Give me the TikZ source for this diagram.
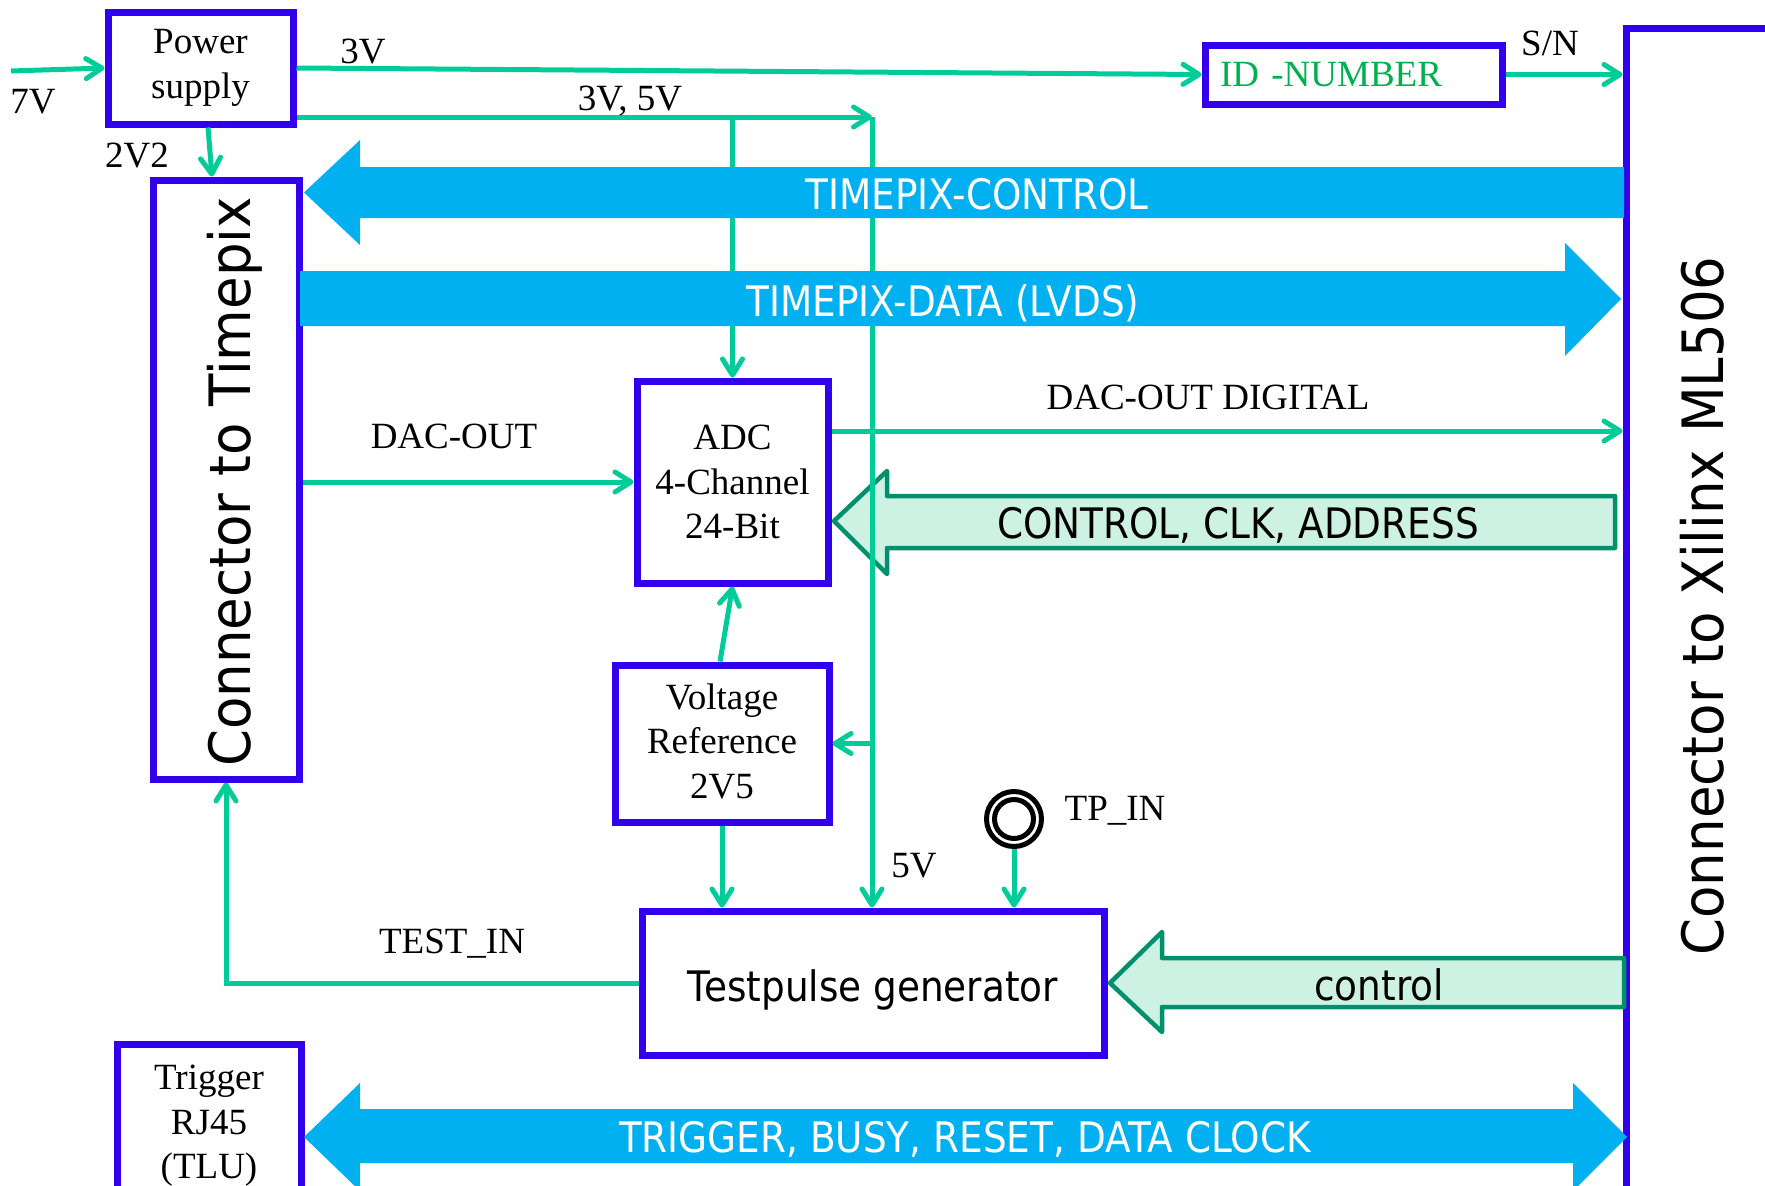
\documentclass[tikz,border=0pt]{standalone}
\usepackage{fontspec}
\setmainfont{Liberation Serif}
\newfontfamily\fSansA{DejaVu Sans}[FakeStretch=0.89]
\newfontfamily\fSansB{DejaVu Sans}[FakeStretch=0.93]
\newcommand\szSerif{\rmfamily\fontsize{37}{44.5}\selectfont}
\newcommand\szSans{\fSansA\fontsize{42}{48}\selectfont}
\newcommand\szConn{\fSansB\fontsize{57}{64}\selectfont}
\usetikzlibrary{arrows.meta,calc}
\definecolor{boxblue}{HTML}{3300EE}
\definecolor{wgreen}{HTML}{00CC99}
\definecolor{cyanA}{HTML}{00B0F0}
\definecolor{dgreen}{HTML}{00906E}
\definecolor{lightfill}{HTML}{CDF2E4}
\definecolor{idgreen}{HTML}{00B050}
\begin{document}
\begin{tikzpicture}[x=1pt,y=-1pt,
  box/.style={draw=boxblue, line width=7pt, fill=white, rectangle, inner sep=0pt, align=center, font=\szSerif},
  wire/.style={draw=wgreen, line width=5pt},
  arr/.style={wire, -{Straight Barb[length=16pt,width=20pt,line cap=round,line join=round]}},
  lbl/.style={anchor=base, inner sep=0pt, font=\szSerif},
  bigtxt/.style={anchor=base, inner sep=0pt, font=\szSans, text=white},
  big/.style={fill=cyanA},
  hollow/.style={fill=lightfill, draw=dgreen, line width=4.5pt, line join=round},
  conn/.style={rotate=90, anchor=base, inner sep=0pt, font=\szConn}
]
\useasboundingbox (0,0) rectangle (1765,1186);
\fill[white] (0,0) rectangle (1765,1186);
\clip (0,0) rectangle (1765,1186);

% boxes
\node[box, minimum width=185pt, minimum height=112pt] (ps) at (200.5,68) {Power\\supply};
\node[box, minimum height=59pt, text width=267pt, inner xsep=15pt, align=left, text=idgreen] (id) at (1353.5,74.5) {ID -NUMBER};
\node[box, minimum width=174pt, minimum height=1192pt] (xil) at (1713,624) {};
\node[box, minimum width=146pt, minimum height=599pt] (tpx) at (226,479.5) {};
\node[box, minimum width=191pt, minimum height=202pt] (adc) at (732.5,482) {ADC\\4-Channel\\24-Bit};
\node[box, minimum width=214pt, minimum height=157pt] (vref) at (722,743.5) {};
\node[font=\szSerif, align=center, inner sep=0pt] (vreftxt) at (722,741) {Voltage\\Reference\\2V5};
\node[box, minimum width=462pt, minimum height=144pt] (tp) at (873,983) {};
\node[font=\szSans, inner sep=0pt] (tptxt) at (873,990) {Testpulse generator};
\node[box, minimum width=184pt, minimum height=176pt] (trig) at (209,1132) {};
\node[font=\szSerif, align=center, inner sep=0pt] (trigtxt) at (209,1126) {Trigger\\RJ45\\(TLU)};
\node[conn] (tpxtxt) at (250,482) {Connector to Timepix};
\node[conn] (xiltxt) at (1723,606) {Connector to Xilinx ML506};

% TP_IN connector symbol
\node[circle, draw=black, fill=white, line width=5pt, minimum size=55pt, inner sep=0pt] (tpin) at (1014,819) {};
\draw[line width=5pt] (tpin.center) circle[radius=19.5pt];

% hollow arrows (under wires)
\draw[hollow] (834,521) -- (887,471) -- (887,496) -- (1615,496) -- (1615,548) -- (887,548) -- (887,574) -- cycle;
\node[bigtxt, text=black] (cca) at (1238,538) {CONTROL, CLK, ADDRESS};
\draw[hollow] (1110,983) -- (1162,932) -- (1162,958) -- (1624,958) -- (1624,1007) -- (1162,1007) -- (1162,1032) -- cycle;
\node[font=\szSans, inner sep=0pt] (ctl) at (1379,985) {control};

% wires
\coordinate (in7) at (11,71);
\coordinate (j35) at (872,117);
\coordinate (jadc) at (732.5,117);
\coordinate (jvr) at (872,743.5);
\coordinate (dd) at (831,431);
\draw[arr] (in7) -- (ps.west);
\draw[arr] (ps.east) -- (id.west);
\draw[arr] (id.east) -- (id.east -| xil.west);
\draw[arr] (ps.east |- j35) -- (j35);
\draw[arr] (jadc) -- (adc.north);
\draw[arr] (j35) -- (j35 |- tp.north);
\draw[arr] (jvr) -- (vref.east);
\draw[arr] ([xshift=7.5pt]ps.south) -- ([xshift=-14pt]tpx.north);
\draw[arr] (tpx.east |- adc.west) -- (adc.west);
\draw[arr] (adc.east |- dd) -- (xil.west |- dd);
\draw[arr] ([xshift=-2pt]vref.north) -- (adc.south);
\draw[arr] (vref.south) -- (vref.south |- tp.north);
\draw[arr] (tpin.south) -- (tpin.south |- tp.north);
\draw[arr] (tp.west) -| (tpx.south);

% big cyan arrows
\fill[big] (1624,167) -- (360,167) -- (360,140) -- (304,192.5) -- (360,245) -- (360,218) -- (1624,218) -- cycle;
\node[bigtxt] (tctl) at (977,209) {TIMEPIX-CONTROL};
\fill[big] (300,271) -- (1565,271) -- (1565,243) -- (1621,299) -- (1565,356) -- (1565,326) -- (300,326) -- cycle;
\node[bigtxt] (tdat) at (943,316) {TIMEPIX-DATA (LVDS)};
\fill[big] (304,1137) -- (360,1083) -- (360,1109) -- (1573,1109) -- (1573,1083) -- (1627,1137) -- (1573,1191) -- (1573,1163) -- (360,1163) -- (360,1191) -- cycle;
\node[bigtxt] (trg) at (965,1152) {TRIGGER, BUSY, RESET, DATA CLOCK};

% labels
\node[lbl] (l7v) at (33,113) {7V};
\node[lbl] (l3v) at (363,63) {3V};
\node[lbl] (l35) at (630,110) {3V, 5V};
\node[lbl] (l2v2) at (137,167) {2V2};
\node[lbl] (lsn) at (1550,55) {S/N};
\node[lbl] (ldac) at (454,448) {DAC-OUT};
\node[lbl] (ldacd) at (1208,409) {DAC-OUT DIGITAL};
\node[lbl] (ltest) at (452,953) {TEST\_IN};
\node[lbl] (l5v) at (914,877) {5V};
\node[lbl] (ltpin) at (1115,820) {TP\_IN};
\end{tikzpicture}
\end{document}
